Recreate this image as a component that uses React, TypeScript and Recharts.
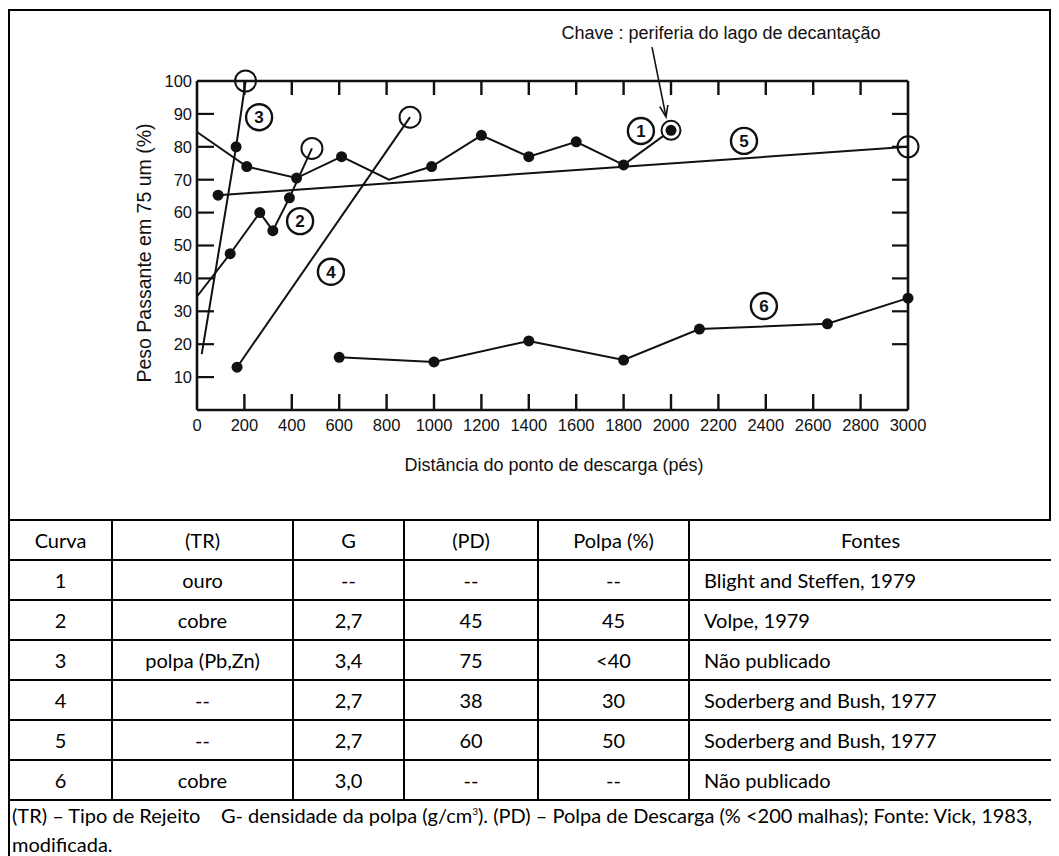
import React from 'react'
import { LineChart, Line, XAxis, YAxis, ReferenceDot, ReferenceLine } from 'recharts'

// distance (ft) vs % passing 75 um
const curve1 = [
  { x: 0, y: 84.5 }, { x: 210, y: 74 }, { x: 420, y: 70.5 }, { x: 610, y: 77 }, { x: 810, y: 70 },
  { x: 990, y: 74 }, { x: 1200, y: 83.5 }, { x: 1400, y: 77 }, { x: 1600, y: 81.5 }, { x: 1800, y: 74.5 },
  { x: 2000, y: 85 },
]
const curve2 = [
  { x: 0, y: 34.5 }, { x: 140, y: 47.5 }, { x: 265, y: 60 }, { x: 320, y: 54.5 }, { x: 390, y: 64.5 },
  { x: 485, y: 79.5 },
]
const curve3 = [{ x: 20, y: 17 }, { x: 165, y: 80 }, { x: 205, y: 100 }]
const curve4 = [{ x: 169, y: 13 }, { x: 899, y: 89 }]
const curve5 = [{ x: 89, y: 65.3 }, { x: 3000, y: 80 }]
const curve6 = [
  { x: 600, y: 16 }, { x: 1000, y: 14.6 }, { x: 1400, y: 21 }, { x: 1800, y: 15.2 }, { x: 2120, y: 24.6 },
  { x: 2660, y: 26.2 }, { x: 3000, y: 34 },
]

// marker per point: '' none, dot filled, open circle, ring = dot inside circle
const marks1 = ['', 'dot', 'dot', 'dot', '', 'dot', 'dot', 'dot', 'dot', 'dot', 'ring']
const marks2 = ['', 'dot', 'dot', 'dot', 'dot', 'open']
const marks3 = ['', 'dot', 'open']
const marks4 = ['dot', 'open']
const marks5 = ['dot', 'open']
const marks6 = ['dot', 'dot', 'dot', 'dot', 'dot', 'dot', 'dot']

const tags = [
  { n: '1', x: 1873, y: 84.8 },
  { n: '2', x: 435, y: 57.4 },
  { n: '3', x: 262, y: 89 },
  { n: '4', x: 565, y: 42 },
  { n: '5', x: 2308, y: 81.8 },
  { n: '6', x: 2392, y: 31.6 },
]
const arrow = [{ x: 1920, y: 110.3 }, { x: 1979, y: 89.1 }]

const xDomain = [0, 3000]
const xTicks = [0, 200, 400, 600, 800, 1000, 1200, 1400, 1600, 1800, 2000, 2200, 2400, 2600, 2800, 3000]
const xInnerTicks = [200, 400, 600, 800, 1000, 1200, 1400, 1600, 1800, 2000, 2200, 2400, 2600, 2800]
const yTicks = [10, 20, 30, 40, 50, 60, 70, 80, 90, 100]
const yInnerTicks = [10, 20, 30, 40, 50, 60, 70, 80, 90]
const yRightTicks = [20, 30, 40, 50, 60, 70, 80, 90]

const tableHead = ['Curva', '(TR)', 'G', '(PD)', 'Polpa (%)', 'Fontes']
const tableRows = [
  ['1', 'ouro', '--', '--', '--', 'Blight and Steffen, 1979'],
  ['2', 'cobre', '2,7', '45', '45', 'Volpe, 1979'],
  ['3', 'polpa (Pb,Zn)', '3,4', '75', '<40', 'Não publicado'],
  ['4', '--', '2,7', '38', '30', 'Soderberg and Bush, 1977'],
  ['5', '--', '2,7', '60', '50', 'Soderberg and Bush, 1977'],
  ['6', 'cobre', '3,0', '--', '--', 'Não publicado'],
]
const colWidths = [103, 181, 111, 134, 151, 363]

const ink = '#111'
const chartFont = '"Liberation Sans", Arial, sans-serif'
const tableFont = 'Lato, "Noto Sans", sans-serif'

// chart layout
const chartW = 1043
const chartH = 512
const margin = { top: 63, right: 133, bottom: 80, left: 149 }
const yAxisW = 40
const yRightW = 10
const xAxisH = 30
const xTopH = 10
const plotLeft = margin.left + yAxisW
const plotRight = chartW - margin.right - yRightW
const plotTop = margin.top + xTopH
const plotBottom = chartH - margin.bottom - xAxisH

const makeDot = (marks: string[]) => (props: any) => {
  const { cx, cy, index } = props
  const m = marks[index]
  if (m === 'dot') return <circle key={index} cx={cx} cy={cy} r={5.5} fill={ink} />
  if (m === 'open')
    return <circle key={index} cx={cx} cy={cy} r={10.5} fill="none" stroke={ink} strokeWidth={2} />
  if (m === 'ring')
    return (
      <g key={index}>
        <circle cx={cx} cy={cy} r={9.5} fill="#fff" stroke={ink} strokeWidth={2} />
        <circle cx={cx} cy={cy} r={5.5} fill={ink} />
      </g>
    )
  return <g key={index} />
}

const tagShape = (n: string) => (p: any) => (
  <g>
    <circle cx={p.cx} cy={p.cy} r={13} fill="#fff" stroke={ink} strokeWidth={2.4} />
    <text x={p.cx} y={p.cy + 6} textAnchor="middle" fontSize={17} fontWeight="bold" fontFamily={chartFont} fill={ink}>
      {n}
    </text>
  </g>
)

const ArrowShape = (p: any) => {
  const { x1, y1, x2, y2 } = p
  const a = Math.atan2(y2 - y1, x2 - x1)
  const len = 12
  const hx1 = x2 - len * Math.cos(a - 0.35)
  const hy1 = y2 - len * Math.sin(a - 0.35)
  const hx2 = x2 - len * Math.cos(a + 0.35)
  const hy2 = y2 - len * Math.sin(a + 0.35)
  return (
    <g>
      <line x1={x1} y1={y1} x2={x2} y2={y2} stroke={ink} strokeWidth={1.6} />
      <path d={`M${hx1},${hy1} L${x2},${y2} L${hx2},${hy2}`} fill="none" stroke={ink} strokeWidth={1.6} />
    </g>
  )
}

const yStub = (withRight: boolean) => (p: any) => {
  const left = Math.min(p.x1, p.x2)
  const right = Math.max(p.x1, p.x2)
  return (
    <g>
      <line x1={left} y1={p.y1} x2={left + 17} y2={p.y1} stroke={ink} strokeWidth={2.2} />
      {withRight && <line x1={right} y1={p.y1} x2={right - 16} y2={p.y1} stroke={ink} strokeWidth={2.2} />}
    </g>
  )
}

// inward tick marks on the top and bottom of the frame
const XFrameTicks = () => {
  const xPos = (v: number) => plotLeft + ((v - xDomain[0]) / (xDomain[1] - xDomain[0])) * (plotRight - plotLeft)
  const d = xInnerTicks
    .map((v) => `M${xPos(v)},${plotBottom} V${plotBottom - 16} M${xPos(v)},${plotTop} V${plotTop + 14}`)
    .join(' ')
  return (
    <svg
      width={chartW}
      height={chartH}
      style={{ position: 'absolute', left: 0, top: 0, pointerEvents: 'none', zIndex: 2 }}
    >
      <path d={d} stroke={ink} strokeWidth={2.4} fill="none" />
    </svg>
  )
}

const series = [
  { data: curve1, marks: marks1 },
  { data: curve2, marks: marks2 },
  { data: curve3, marks: marks3 },
  { data: curve4, marks: marks4 },
  { data: curve5, marks: marks5 },
  { data: curve6, marks: marks6 },
]

const cell: React.CSSProperties = {
  border: '2px solid #000',
  textAlign: 'center',
  padding: 0,
  height: 38,
}

export default function App() {
  const axisLine = { stroke: ink, strokeWidth: 2.6 }
  const tick = { fill: ink, fontSize: 16.5, fontFamily: chartFont }
  return (
    <div style={{ position: 'relative', width: 1043, height: 848, background: '#fff' }}>
      <div
        style={{
          position: 'absolute', left: 0, top: 1, width: 1043, height: 512,
          border: '2px solid #000', boxSizing: 'border-box',
        }}
      />
      <div style={{ position: 'absolute', left: 0, top: 0, width: chartW, height: chartH }}>
        <LineChart width={chartW} height={chartH} margin={margin}>
          <XAxis
            type="number" dataKey="x" domain={xDomain} ticks={xTicks} interval={0} height={xAxisH}
            tickSize={0} tickMargin={9} axisLine={axisLine} tickLine={false} tick={tick}
          />
          <XAxis
            xAxisId="top" orientation="top" type="number" dataKey="x" domain={xDomain} ticks={xInnerTicks}
            interval={0} height={xTopH} tickSize={0} axisLine={axisLine} tickLine={false} tick={false}
          />
          <YAxis
            type="number" domain={[0, 100]} ticks={yTicks} interval={0} width={yAxisW}
            tickSize={0} tickMargin={5} axisLine={axisLine} tickLine={false} tick={tick}
          />
          <YAxis
            yAxisId="r" orientation="right" type="number" domain={[0, 100]} ticks={yRightTicks} interval={0}
            width={yRightW} tickSize={0} axisLine={axisLine} tickLine={false} tick={false}
          />
          {yInnerTicks.map((v) => (
            <ReferenceLine key={`yt${v}`} y={v} shape={yStub(yRightTicks.includes(v))} />
          ))}
          {series.map((s, i) => (
            <Line
              key={i} data={s.data} dataKey="y" type="linear" stroke={ink} strokeWidth={2}
              dot={makeDot(s.marks)} activeDot={false} isAnimationActive={false}
            />
          ))}
          <ReferenceLine segment={arrow} ifOverflow="visible" shape={ArrowShape} />
          {tags.map((t) => (
            <ReferenceDot key={t.n} x={t.x} y={t.y} r={13} ifOverflow="visible" shape={tagShape(t.n)} />
          ))}
        </LineChart>
        <XFrameTicks />
      </div>

      <div
        style={{
          position: 'absolute', left: 713, top: 25, transform: 'translate(-50%, -50%)', whiteSpace: 'nowrap',
          fontFamily: chartFont, fontSize: 18, color: ink,
        }}
      >
        Chave : periferia do lago de decantação
      </div>
      <div
        style={{
          position: 'absolute', left: 546, top: 457, transform: 'translate(-50%, -50%)', whiteSpace: 'nowrap',
          fontFamily: chartFont, fontSize: 18, color: ink,
        }}
      >
        Distância do ponto de descarga (pés)
      </div>
      <div
        style={{
          position: 'absolute', left: 136, top: 245, transform: 'translate(-50%, -50%) rotate(-90deg)',
          whiteSpace: 'nowrap', fontFamily: chartFont, fontSize: 19.5, color: ink,
        }}
      >
        Peso Passante em 75 um (%)
      </div>

      <table
        style={{
          position: 'absolute', left: 0, top: 511, width: 1043, borderCollapse: 'collapse',
          fontFamily: tableFont, fontSize: 20, color: '#000', tableLayout: 'fixed',
        }}
      >
        <colgroup>
          {colWidths.map((w, i) => (
            <col key={i} style={{ width: w }} />
          ))}
        </colgroup>
        <tbody>
          <tr>
            {tableHead.map((h, i) => (
              <td key={i} style={{ ...cell, height: 38 }}>{h}</td>
            ))}
          </tr>
          {tableRows.map((r, ri) => (
            <tr key={ri}>
              {r.map((c, ci) => (
                <td
                  key={ci}
                  style={{ ...cell, height: 38, textAlign: ci === 5 ? 'left' : 'center', paddingLeft: ci === 5 ? 14 : 0 }}
                >
                  {c}
                </td>
              ))}
            </tr>
          ))}
          <tr>
            <td colSpan={6} style={{ ...cell, textAlign: 'left', padding: '0 0 0 2px', height: 62, lineHeight: '29px', verticalAlign: 'top' }}>
              <span style={{ whiteSpace: 'nowrap' }}>
                (TR) – Tipo de Rejeito&nbsp;&nbsp;&nbsp; G- densidade da polpa (g/cm<sup style={{ fontSize: 10, lineHeight: 0 }}>3</sup>). (PD) – Polpa de Descarga (% &lt;200 malhas); Fonte: Vick, 1983,
              </span>
              <br />
              modificada.
            </td>
          </tr>
        </tbody>
      </table>
    </div>
  )
}
